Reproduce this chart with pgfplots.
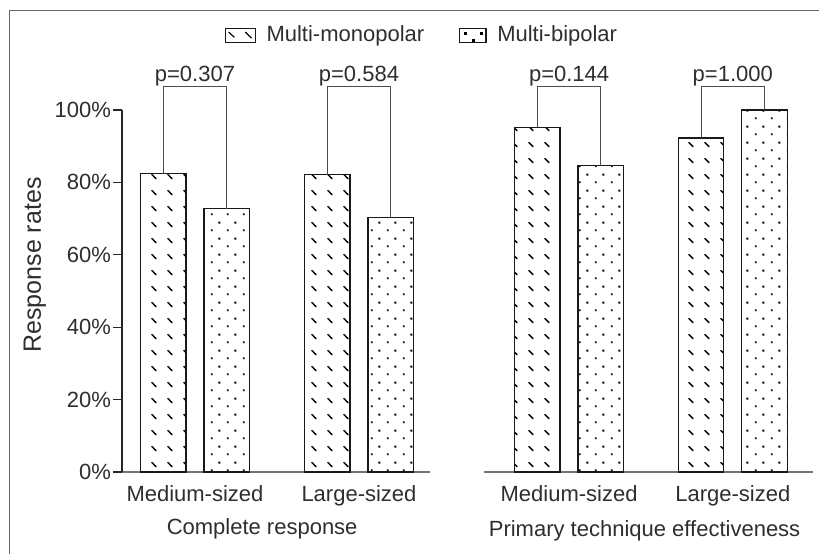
\documentclass[border=0pt]{standalone}
\usepackage{fontspec}
\setmainfont{Liberation Sans}
\usepackage{pgfplots}
\pgfplotsset{compat=1.18}
\usetikzlibrary{patterns.meta}

% short back-slash dashes on a square grid
\tikzdeclarepattern{
  name=monodash,
  type=uncolored,
  bounding box={(0pt,0pt) and (8.2pt,8.1pt)},
  tile size={(8.2pt,8.1pt)},
  code={\draw[line width=0.75pt] (2.4pt,5.6pt) -- (4.8pt,3.2pt);}
}
% staggered dots
\tikzdeclarepattern{
  name=bidots,
  type=uncolored,
  bounding box={(0pt,0pt) and (8pt,8pt)},
  tile size={(8pt,8pt)},
  code={\fill (1.5pt,1.5pt) rectangle (2.5pt,2.5pt);
        \fill (5.5pt,5.5pt) rectangle (6.5pt,6.5pt);}
}

\definecolor{txt}{HTML}{2E2E2E}
\newcommand\lbl{\fontsize{11}{13}\selectfont}

\tikzset{pval/.style={anchor=base, text=txt, inner sep=0pt, font=\lbl}}

\pgfplotsset{
  panel/.style={
    scale only axis,
    height=181pt,
    ymin=0, ymax=100,
    clip=false,
    axis x line=bottom,
    axis line style={-},
    x axis line style={-, draw=black!55, line width=0.6pt},
    xtick={1,2},
    xticklabels={Medium-sized, Large-sized},
    xtick style={draw=none},
    xtick align=inside,
    xticklabel style={yshift=-3pt},
    tick label style={text=txt, font=\lbl},
    label style={text=txt, font=\lbl},
    /pgf/number format/assume math mode=true,
  },
  mono/.style={ybar, bar width=22.75pt, bar shift=-15.875pt,
    draw=black!90, line width=0.65pt,
    pattern={monodash}, pattern color=black,
    legend image code/.code={
      \draw[black!90, line width=0.55pt, fill=white] (0pt,-3.5pt) rectangle (15pt,3.5pt);
      \draw[black, line width=0.6pt] (1.7pt,1.5pt) -- (4.5pt,-1.1pt);
      \draw[black, line width=0.6pt] (10pt,1.5pt) -- (13.1pt,-1.5pt);
      \path (18.3pt,0pt);}},
  bi/.style={ybar, bar width=22.75pt, bar shift=15.875pt,
    draw=black!90, line width=0.65pt,
    pattern={bidots}, pattern color=black,
    legend image code/.code={
      \draw[black!90, line width=0.55pt, fill=white] (0pt,-3.5pt) rectangle (13.3pt,3.5pt);
      \fill[black] (2.6pt,0.25pt) rectangle (3.4pt,1.05pt);
      \fill[black] (6.6pt,-3.05pt) rectangle (7.4pt,-2.25pt);
      \fill[black] (10.45pt,0.25pt) rectangle (11.25pt,1.05pt);
      \path (16.6pt,0pt);}},
  bracket/.style={sharp plot, forget plot, draw=black!70, line width=0.5pt},
}

\begin{document}
\begin{tikzpicture}[x=1pt,y=1pt]
\useasboundingbox (0,0) rectangle (409.5,276.5);
\draw[black!60, line width=0.5pt] (4.5,-2) -- (4.5,271) -- (412,271);

% Complete response
\begin{axis}[
  panel,
  at={(61pt,40.5pt)}, anchor=south west,
  width=154pt,
  xmin=0.555, xmax=2.433,
  axis y line=left,
  axis line style={-},
  y axis line style={-, draw=black!85, line width=0.6pt},
  ytick={0,20,...,100},
  ytick align=outside,
  major tick length=4.5pt,
  ytick style={draw=black!85, line width=0.6pt},
  yticklabel={\pgfmathprintnumber{\tick}\%},
  yticklabel style={inner sep=0.8pt},
  ylabel={Response rates},
  ylabel style={at={(axis description cs:-0.2825,0.572)}, anchor=center,
    font=\fontsize{12.5}{15}\selectfont},
  xlabel={Complete response},
  xlabel style={at={(axis description cs:0.455,-0.1575)}, anchor=center},
  legend columns=2,
  legend style={at={(axis description cs:0.977,1.207)}, anchor=center,
    draw=none, fill=none, text=txt, font=\lbl,
    /tikz/every even column/.append style={column sep=15.3pt}},
]
\addplot[mono] coordinates {(1,82.4) (2,82.1)};
\addlegendentry{Multi-monopolar}
\addplot[bi] coordinates {(1,72.7) (2,70.4)};
\addlegendentry{Multi-bipolar}
\addplot[bracket] coordinates {(0.806,82.4) (0.806,106.6) (1.194,106.6) (1.194,72.7)};
\addplot[bracket] coordinates {(1.806,82.1) (1.806,106.6) (2.194,106.6) (2.194,70.4)};
\node[pval] at (axis cs:1,108.0) {p=0.307};
\node[pval] at (axis cs:2,108.0) {p=0.584};
\end{axis}

% Primary technique effectiveness
\begin{axis}[
  panel,
  at={(242pt,40.5pt)}, anchor=south west,
  width=164.5pt,
  xmin=0.48, xmax=2.49,
  axis y line=none,
  ytick=\empty,
  xlabel={Primary technique effectiveness},
  xlabel style={at={(axis description cs:0.488,-0.163)}, anchor=center},
]
\addplot[mono] coordinates {(1,95.2) (2,92.3)};
\addplot[bi] coordinates {(1,84.6) (2,100)};
\addplot[bracket] coordinates {(0.806,95.2) (0.806,106.6) (1.194,106.6) (1.194,84.6)};
\addplot[bracket] coordinates {(1.806,92.3) (1.806,106.6) (2.194,106.6) (2.194,100)};
\node[pval] at (axis cs:1,108.0) {p=0.144};
\node[pval] at (axis cs:2,108.0) {p=1.000};
\end{axis}
\end{tikzpicture}
\end{document}
